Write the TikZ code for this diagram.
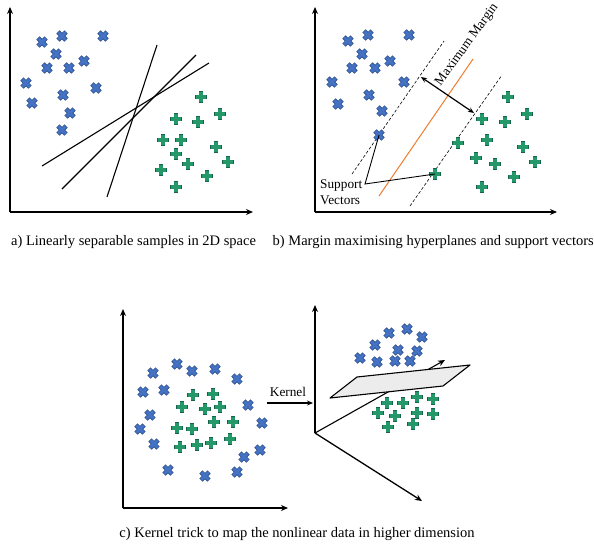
\documentclass[tikz,border=0pt]{standalone}
\usepackage{fontspec}
\setmainfont{Liberation Serif}
\usetikzlibrary{arrows.meta}
\definecolor{bxfill}{RGB}{68,114,196}
\definecolor{bxline}{RGB}{47,82,143}
\definecolor{gpfill}{RGB}{36,152,104}
\definecolor{gpline}{RGB}{24,98,76}
\definecolor{orangeline}{RGB}{237,125,49}
\definecolor{planefill}{RGB}{236,236,236}
\tikzset{
  bx/.pic={
    \draw[bxline,line width=4.6pt] (-4.1,-4.1)--(4.1,4.1) (-4.1,4.1)--(4.1,-4.1);
    \draw[bxfill,line width=3.1pt] (-3.6,-3.6)--(3.6,3.6) (-3.6,3.6)--(3.6,-3.6);
  },
  gp/.pic={
    \draw[gpline,line width=4.6pt] (-5.9,0)--(5.9,0) (0,-5.9)--(0,5.9);
    \draw[gpfill,line width=3.1pt] (-5.2,0)--(5.2,0) (0,-5.2)--(0,5.2);
  },
  axis/.style={line width=1.3pt,-{Stealth[length=7pt,width=6pt]}},
  sepline/.style={line width=1.1pt},
  margline/.style={line width=0.6pt,dash pattern=on 3pt off 2pt},
  hyper/.style={orangeline,line width=1pt},
  dblarrow/.style={line width=1.2pt,{Stealth[length=6pt,width=5pt]}-{Stealth[length=6pt,width=5pt]}},
  thinlink/.style={line width=0.9pt},
  caption/.style={font=\fontsize{14.5}{17}\selectfont,inner sep=0pt},
  label/.style={font=\fontsize{13.3}{16}\selectfont,inner sep=0pt},
}
\begin{document}
\begin{tikzpicture}[x=1pt,y=-1pt]
\useasboundingbox (0,0) rectangle (594,544);
% ---------------- panel a ----------------
\coordinate (aO) at (10,212);
\coordinate (aY) at (10,7);
\coordinate (aX) at (253,212);
\draw[axis] (aO)--(aY);
\draw[axis] (aO)--(aX);
\coordinate (aL1s) at (42,166); \coordinate (aL1e) at (209,63);
\coordinate (aL2s) at (62,189); \coordinate (aL2e) at (196,55);
\coordinate (aL3s) at (107,197); \coordinate (aL3e) at (157,45);
\draw[sepline] (aL1s)--(aL1e);
\draw[sepline] (aL2s)--(aL2e);
\draw[sepline] (aL3s)--(aL3e);
\foreach \p in {(42,42),(62,36),(103,36),(56,54),(47,68),(69,68),(84,61),(26,83),(96,88),(63,95),(32,103),(70,113),(62,130)}
  \pic at \p {bx};
\foreach \p in {(201,97),(176,119),(198,122),(220,114),(163,140),(181,140),(216,147),(176,154),(188,164),(228,162),(161,170),(207,176),(176,187)}
  \pic at \p {gp};
\node[caption,anchor=base west] (capa) at (11,245) {a) Linearly separable samples in 2D space};
% ---------------- panel b ----------------
\coordinate (bO) at (315,212);
\coordinate (bY) at (315,7);
\coordinate (bX) at (557,212);
\draw[axis] (bO)--(bY);
\draw[axis] (bO)--(bX);
\coordinate (bD1s) at (352,174); \coordinate (bD1e) at (444,41);
\coordinate (bD2s) at (410,206); \coordinate (bD2e) at (502,75);
\coordinate (bHs) at (379,196); \coordinate (bHe) at (473,59);
\draw[margline] (bD1s)--(bD1e);
\draw[margline] (bD2s)--(bD2e);
\draw[hyper] (bHs)--(bHe);
\coordinate (bMa) at (421,77); \coordinate (bMb) at (474,113);
\draw[dblarrow] (bMa)--(bMb);
\node[label,rotate=54] (maxm) at (467,45) {Maximum Margin};
\foreach \p in {(348,41),(368,35),(409,35),(362,54),(352,68),(375,68),(390,61),(332,82),(404,82),(338,104),(369,95),(382,111)}
  \pic at \p {bx};
\coordinate (sv1) at (379,135);
\pic at (sv1) {bx};
\foreach \p in {(508,97),(482,119),(505,122),(527,114),(458,143),(487,140),(523,147),(476,158),(495,164),(535,162),(514,177),(482,187)}
  \pic at \p {gp};
\coordinate (sv2) at (435,174);
\pic at (sv2) {gp};
\node[label,anchor=north west,align=left] (svtext) at (320,179) {Support\\Vectors};
\coordinate (svj) at (365,184);
\draw[thinlink] (sv1)--(svj)--(sv2);
\node[caption,anchor=base east] (capb) at (594,245) {b) Margin maximising hyperplanes and support vectors};
% ---------------- panel c left ----------------
\coordinate (cO) at (123,508);
\coordinate (cY) at (123,309);
\coordinate (cX) at (288,508);
\draw[axis] (cO)--(cY);
\draw[axis] (cO)--(cX);
\foreach \p in {(177,364),(153,373),(192,371),(215,369),(237,379),(143,392),(164,390),(248,405),(150,415),(140,429),(262,423),(154,444),(260,450),(244,457),(168,470),(205,476),(237,472)}
  \pic at \p {bx};
\foreach \p in {(193,395),(213,394),(182,407),(205,409),(220,407),(214,422),(233,422),(177,428),(192,429),(180,447),(197,445),(211,443),(230,439)}
  \pic at \p {gp};
% kernel arrow
\coordinate (kS) at (267,403);
\coordinate (kE) at (313,403);
\draw[line width=1.2pt,-{Stealth[length=6pt,width=5pt]}] (kS)--(kE);
\node[label,anchor=base] (kern) at (288,396) {Kernel};
% ---------------- panel c right (3D) ----------------
\coordinate (dO) at (315,433);
\coordinate (dY) at (315,305);
\coordinate (dX) at (422,501);
\coordinate (dZ) at (445,360);
\draw[axis] (dO)--(dY);
\draw[axis] (dO)--(dX);
\draw[axis,line width=1.1pt] (dO)--(dZ);
\foreach \p in {(389,333),(407,329),(422,337),(375,345),(398,350),(417,351),(360,358),(377,362),(395,361),(410,361)}
  \pic at \p {bx};
\coordinate (pA) at (330,398);
\coordinate (pB) at (357,377);
\coordinate (pC) at (470,365);
\coordinate (pD) at (443,386);
\draw[fill=planefill,line width=1.1pt,line join=round] (pA)--(pB)--(pC)--(pD)--cycle;
\foreach \p in {(387,403),(403,403),(417,397),(433,399),(378,413),(395,416),(417,413),(433,414),(388,427),(413,424)}
  \pic at \p {gp};
\node[caption,anchor=base] (capc) at (297,537) {c) Kernel trick to map the nonlinear data in higher dimension};
\end{tikzpicture}
\end{document}
